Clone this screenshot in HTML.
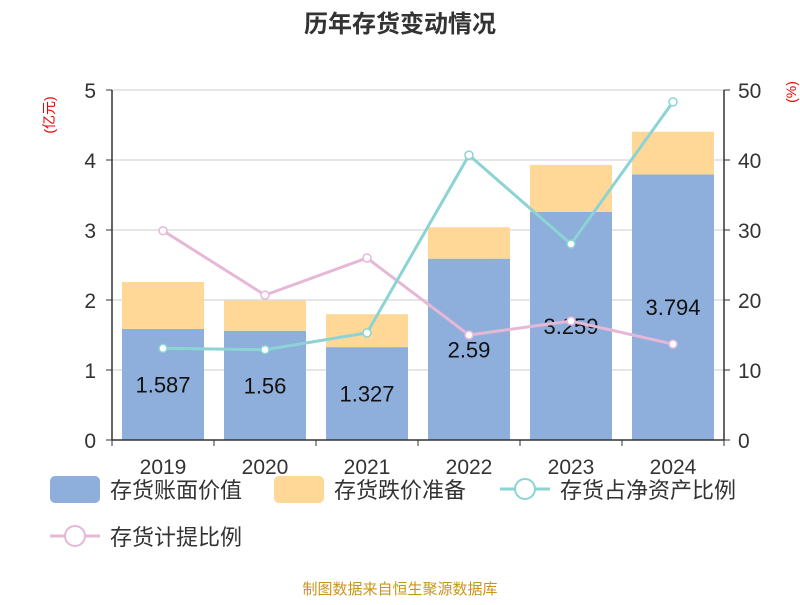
<!DOCTYPE html>
<html><head><meta charset="utf-8"><style>
body{margin:0;background:#fff;font-family:"Liberation Sans","Noto Sans CJK SC",sans-serif}
</style></head><body>
<svg id="c" width="800" height="600" font-family="Liberation Sans, Noto Sans CJK SC, sans-serif"></svg>
<script>
const categories=["2019","2020","2021","2022","2023","2024"];
const bookValue=[1.587,1.56,1.327,2.59,3.259,3.794];
const reserve=[0.67,0.43,0.47,0.45,0.67,0.61];
const netAssetRatio=[13.1,12.9,15.3,40.7,28,48.3];
const provisionRatio=[29.9,20.7,26,15,17,13.7];
const leftTicks=[0,1,2,3,4,5];
const rightTicks=[0,10,20,30,40,50];
const bookLabels=["1.587","1.56","1.327","2.59","3.259","3.794"];
const svg=document.getElementById('c');const NS='http://www.w3.org/2000/svg';
function add(t,a,txt,p){const e=document.createElementNS(NS,t);for(const k in a)e.setAttribute(k,a[k]);if(txt!=null)e.textContent=txt;(p||svg).appendChild(e);return e;}
const X0=112,X1=724,Y0=440,Y1=90;
const band=(X1-X0)/categories.length;
const xC=i=>X0+band*(i+0.5);
const yL=v=>Y0-(Y0-Y1)*v/5;
const yR=v=>Y0-(Y0-Y1)*v/50;
let e;
e=add('text',{x:400,y:32,'text-anchor':'middle','font-size':24,'font-weight':'bold',fill:'#333'},'历年存货变动情况');

leftTicks.forEach((t,i)=>{
 if(t>0){e=add('line',{x1:X0,x2:X1,y1:yL(t),y2:yL(t),stroke:'#ccc'});}
 e=add('text',{x:96,y:yL(t)+8,'text-anchor':'end','font-size':21,fill:'#333'},String(t));
 e=add('line',{x1:X0-6,x2:X0,y1:yL(t),y2:yL(t),stroke:'#333'});
});
rightTicks.forEach(t=>{
 e=add('text',{x:738,y:yR(t)+8,'font-size':21,fill:'#333'},String(t));
 e=add('line',{x1:X1,x2:X1+6,y1:yR(t),y2:yR(t),stroke:'#333'});
});
e=add('text',{x:0,y:0,transform:'translate(54,115) rotate(-90)','text-anchor':'middle','font-size':14,fill:'#e00'},'(亿元)');
e=add('text',{x:0,y:0,transform:'translate(796,92) rotate(-90)','text-anchor':'middle','font-size':14,fill:'#e00'},'(%)');
const bw=82;
categories.forEach((c,i)=>{
 e=add('rect',{x:xC(i)-bw/2,y:yL(bookValue[i]),width:bw,height:Y0-yL(bookValue[i]),fill:'#8eaedb'});
 e=add('rect',{x:xC(i)-bw/2,y:yL(bookValue[i]+reserve[i]),width:bw,height:yL(bookValue[i])-yL(bookValue[i]+reserve[i]),fill:'#ffd898'});
 e=add('text',{x:xC(i),y:yL(bookValue[i]/2)+8,'text-anchor':'middle','font-size':22,fill:'#111'},bookLabels[i]);
 e=add('text',{x:xC(i),y:474,'text-anchor':'middle','font-size':21,fill:'#333'},c);
});
for(let i=0;i<=categories.length;i++){e=add('line',{x1:X0+band*i,x2:X0+band*i,y1:Y0,y2:Y0+6,stroke:'#333'});}
e=add('line',{x1:X0,x2:X0,y1:Y1,y2:Y0,stroke:'#333','stroke-width':1.5});
e=add('line',{x1:X1,x2:X1,y1:Y1,y2:Y0,stroke:'#333','stroke-width':1.5});
e=add('line',{x1:X0,x2:X1,y1:Y0,y2:Y0,stroke:'#333','stroke-width':1.5});
function line(vals,col,name){
 e=add('polyline',{points:vals.map((v,i)=>xC(i)+','+yR(v)).join(' '),fill:'none',stroke:col,'stroke-width':3});
 vals.forEach((v,i)=>{e=add('circle',{cx:xC(i),cy:yR(v),r:4,fill:'#fff',stroke:col,'stroke-width':1.5});});
}
line(provisionRatio,'#e6b8d8','provision-ratio');
line(netAssetRatio,'#8cd4d4','net-asset-ratio');
function leg(x,y,type,col,label,name){
 const g=add('g',{});
 if(type==='rect')add('rect',{x:x,y:y-13,width:50,height:27,rx:5,fill:col},null,g);
 else{add('line',{x1:x,x2:x+50,y1:y,y2:y,stroke:col,'stroke-width':3},null,g);add('circle',{cx:x+25,cy:y,r:10,fill:'#fff',stroke:col,'stroke-width':2},null,g);}
 add('text',{x:x+60,y:y+9,'font-size':22,fill:'#333'},label,g);
}
leg(50,489,'rect','#8eaedb','存货账面价值','legend-book-value');
leg(274,489,'rect','#ffd898','存货跌价准备','legend-reserve');
leg(500,489,'line','#8cd4d4','存货占净资产比例','legend-net-asset-ratio');
leg(50,536,'line','#e6b8d8','存货计提比例','legend-provision-ratio');
e=add('text',{x:400,y:594,'text-anchor':'middle','font-size':15,fill:'#c8941e'},'制图数据来自恒生聚源数据库');
</script>
</body></html>
